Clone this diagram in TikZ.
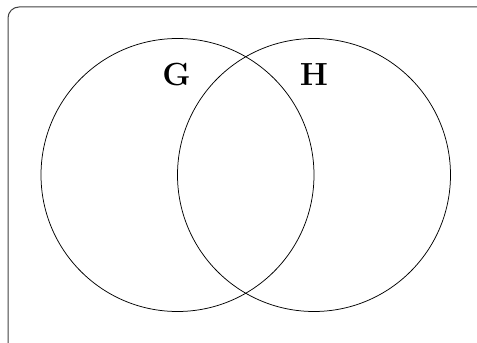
\documentclass[tikz,border=0pt]{standalone}
\usepackage{tikz}

\begin{document}
\begin{tikzpicture}[x=1pt,y=1pt]
  \useasboundingbox (0,0) rectangle (477,343);
  \clip (0,0) rectangle (477,343);
              %frame
  \draw[black!75, line width=1pt, rounded corners=11pt] (8,336) rectangle (500,-20);

   %circles
  \coordinate (Gc) at (177.5,168.0);
  \coordinate (Hc) at (314.0,168.0);
  \draw[line width=0.75pt] (Gc) circle (136.5);
  \draw[line width=0.75pt] (Hc) circle (136.5);

  %labels
  \node (G) at (176.5,268.0) {\fontsize{32}{38}\selectfont\bfseries G};
  \node (H) at (314.0,268.0) {\fontsize{32}{38}\selectfont\bfseries H};
\end{tikzpicture}
\end{document}
